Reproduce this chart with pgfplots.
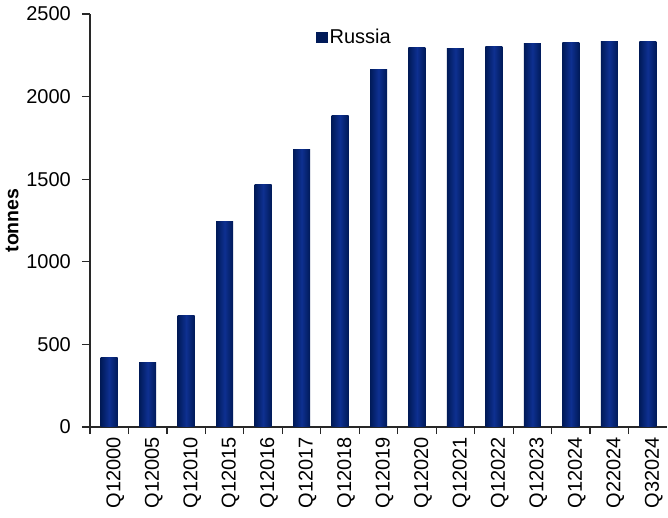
\documentclass[border=0pt]{standalone}
\usepackage{fontspec}
\setmainfont{Liberation Sans}
\usepackage{pgfplots}
\usepackage{pgfplotstable}
\pgfplotsset{compat=1.18}
\usetikzlibrary{calc}
\definecolor{bardark}{RGB}{0,26,88}
\definecolor{barmid}{RGB}{14,48,145}
\definecolor{axcol}{RGB}{40,40,40}
\pgfplotstableread{
x y
0 422
1 392
2 676
3 1241
4 1465
5 1681
6 1887
7 2167
8 2300
9 2294
10 2306
11 2324
12 2330
13 2336
14 2336
}\data
\begin{document}
\begin{tikzpicture}
\begin{axis}[
  scale only axis,
  width=577pt, height=413pt,
  xmin=-0.5, xmax=14.5,
  ymin=0, ymax=2500,
  ytick={0,500,...,2500},
  xtick={0,...,14},
  xticklabels={Q12000,Q12005,Q12010,Q12015,Q12016,Q12017,Q12018,Q12019,Q12020,Q12021,Q12022,Q12023,Q12024,Q22024,Q32024},
  minor xtick={-0.5,0.5,...,13.5},
  axis lines*=left,
  axis line style={axcol, line width=1.2pt},
  tick style={axcol, line width=1.2pt},
  major x tick style={draw=none},
  tick align=outside,
  major tick length=8pt,
  minor tick length=7pt,
  /pgf/number format/assume math mode=true,
  /pgf/number format/1000 sep={},
  tick label style={font=\fontsize{20}{23}\selectfont, text=black},
  x tick label style={rotate=90, anchor=east, inner sep=2pt, yshift=-6pt},
  y tick label style={inner sep=3pt, xshift=-8pt},
  ylabel={\textbf{tonnes}},
  ylabel style={font=\fontsize{19.5}{23}\selectfont, at={(axis description cs:-0.135,0.5)}, anchor=center},
  legend style={at={(0.39,0.972)}, anchor=north west, draw=none, fill=none,
    font=\fontsize{20}{23}\selectfont, inner sep=1pt},
  legend cell align=left,
  clip=false,
]
\pgfplotsinvokeforeach{0,...,14}{
\addplot[ybar, bar width=17pt, bar shift=0pt, draw=none, forget plot,
  left color=bardark, right color=bardark, middle color=barmid]
  table[x=x, y=y, restrict x to domain=#1:#1] {\data};
}
\addlegendimage{legend image code/.code={\fill[bardark] (0pt,-5pt) rectangle (11pt,5pt);}}
\addlegendentry{Russia}
\end{axis}
\pgfresetboundingbox
\path (current axis.south west) ++(-90pt,-91pt) rectangle ($(current axis.north east)+(1pt,14pt)$);
\end{tikzpicture}
\end{document}
